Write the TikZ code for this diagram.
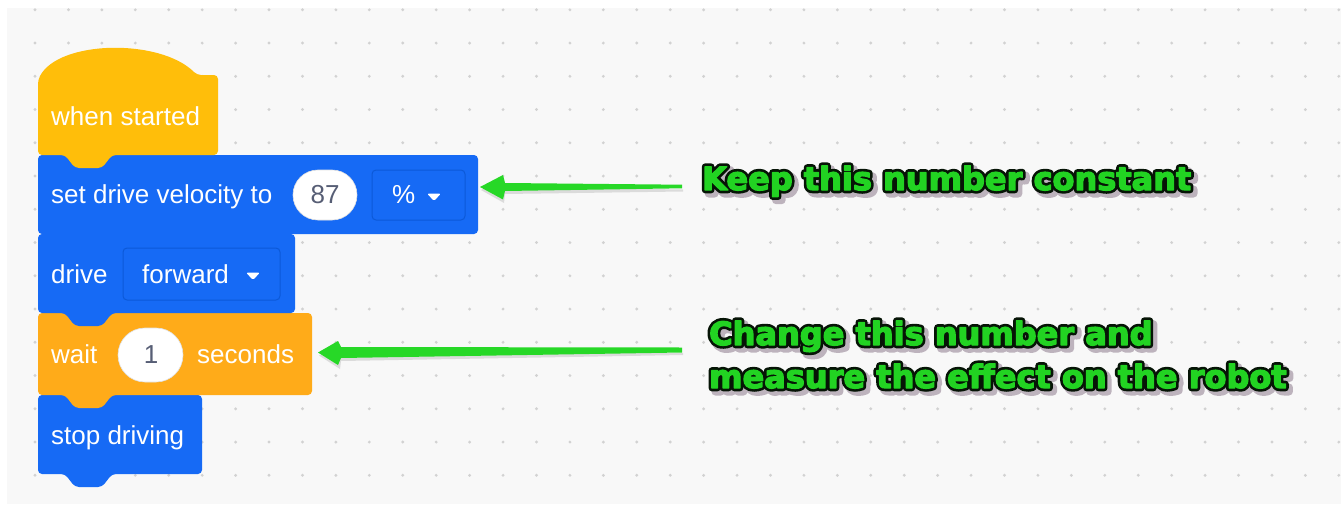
\documentclass[tikz,border=0pt]{standalone}
\usepackage{fontspec}
\setmainfont{Liberation Sans}
\newfontfamily\labfont{DejaVu Sans}
\usetikzlibrary{calc}
\definecolor{bluec}{HTML}{166AF5}
\definecolor{bluedark}{HTML}{0C59D8}
\definecolor{hatc}{HTML}{FFBE0A}
\definecolor{orangec}{HTML}{FFAB19}
\definecolor{bgc}{HTML}{F8F8F8}
\definecolor{dotc}{HTML}{D2D2D2}
\definecolor{ovaltext}{HTML}{575E75}
\definecolor{labgreen}{HTML}{22D322}
\definecolor{laboutline}{HTML}{061406}
\definecolor{labshadow}{HTML}{BDB3BD}
\definecolor{arrowc}{HTML}{27D827}
% stroked text (fill + stroke) of a given width
\newcommand\strk[2]{\special{pdf:literal direct 2 Tr #1 w 1 j 1 J}#2\special{pdf:literal direct 0 Tr}}
\begin{document}
\begin{tikzpicture}[x=1pt,y=-1pt,
  blk/.style={rounded corners=4pt},
  btxt/.style={anchor=base west, inner sep=0pt, text=white, font=\fontsize{26}{30}\selectfont},
  otxt/.style={anchor=base, inner sep=0pt, text=ovaltext, font=\fontsize{26}{30}\selectfont},
  lab/.style={anchor=base west, inner sep=0pt, font=\labfont\bfseries\fontsize{32}{36}\selectfont},
  ddbox/.style={draw=bluedark, line width=1pt, fill=bluec, rounded corners=4pt}]
\useasboundingbox (0,0) rectangle (1341,506);
\fill[white] (0,0) rectangle (1341,506);
\fill[bgc] (7,8) rectangle (1341,504);
% dot grid
\begin{scope}
\clip (7,8) rectangle (1341,504);
\foreach \i in {0,...,40}{\foreach \j in {0,...,15}{\fill[dotc] (1.6+33.43*\i, 9.8+33.25*\j) circle (1.6);}}
\end{scope}
% blocks, bottom to top so each tab overlaps the next block
\fill[bluec, blk] (38,395) -- (202,395) -- (202,474) -- (112,474) -- (102,487) -- (75,487) -- (65,474) -- (38,474) -- cycle;
\fill[orangec, blk] (38,313) -- (312,313) -- (312,395) -- (112,395) -- (102,408) -- (75,408) -- (65,395) -- (38,395) -- cycle;
\fill[bluec, blk] (38,234) -- (295,234) -- (295,313) -- (112,313) -- (102,326) -- (75,326) -- (65,313) -- (38,313) -- cycle;
\fill[bluec, blk] (38,155) -- (478,155) -- (478,234) -- (112,234) -- (102,247) -- (75,247) -- (65,234) -- (38,234) -- cycle;
\fill[hatc, blk] (38,155) -- (38,80) .. controls (58,40) and (160,38) .. (197,75) -- (218,75) -- (218,155) -- (112,155) -- (102,168) -- (75,168) -- (65,155) -- cycle;
% hat text
\node[btxt] (hat) at (51,125) {when started};
% velocity block
\node[btxt] (vel) at (51,203) {set drive velocity to};
\fill[white, draw=black!12, line width=0.6pt, rounded corners=24.9pt] (293,170) rectangle (357,220);
\node[otxt] (v87) at (325,203) {87};
\draw[ddbox] (372,170) rectangle (465,220);
\node[btxt] (pct) at (392,203) {\%};
\fill[white, rounded corners=1.5pt] (427,193.5) -- (441,193.5) -- (434,201) -- cycle;
% drive block
\node[btxt] (drv) at (51,283) {drive};
\draw[ddbox] (123,248) rectangle (280,300);
\node[btxt] (fwd) at (142,283) {forward};
\fill[white, rounded corners=1.5pt] (246,272.5) -- (260,272.5) -- (253,280) -- cycle;
% wait block
\node[btxt] (wt) at (51,363) {wait};
\fill[white, draw=black!12, line width=0.6pt, rounded corners=26.9pt] (118,328) rectangle (183,382);
\node[otxt] (one) at (151,363) {1};
\node[btxt] (sec) at (197,363) {seconds};
% stop block
\node[btxt] (stp) at (51,444) {stop driving};
% arrows
\coordinate (a1t) at (682,186.5);
\coordinate (a1h) at (480,187);
\coordinate (a2t) at (682,350);
\coordinate (a2h) at (318,352.5);
\fill[black!25, opacity=0.5] ($(a1t)+(1,3)$) -- (505,187) -- (504,179) -- ($(a1h)+(1,3)$) -- (504,203) -- (505,194) -- ($(a1t)+(1,5)$) -- cycle;
\fill[arrowc] ($(a1t)+(0,-1.8)$) -- (505,183) -- (503,175) -- (a1h) -- (503,199.5) -- (505,191) -- ($(a1t)+(0,1.8)$) -- cycle;
\fill[black!25, opacity=0.5] ($(a2t)+(1,3)$) -- (341,351) -- (340,345) -- ($(a2h)+(1,3)$) -- (340,369) -- (341,361) -- ($(a2t)+(1,5)$) -- cycle;
\fill[arrowc] ($(a2t)+(0,-2.5)$) -- (341,347) -- (338,341) -- (a2h) -- (338,365) -- (341,358) -- ($(a2t)+(0,2.5)$) -- cycle;
% labels: soft shadow, dark outline, green fill
\foreach \nm/\x/\y/\t in {keep/702/190/Keep this number constant, chgA/709/345/Change this number and, chgB/709/388/measure the effect on the robot}{
  \node[lab, text=labshadow] (\nm s) at (\x+3.5,\y+3.5) {\strk{8}{\t}};
  \node[lab, text=laboutline] (\nm o) at (\x,\y) {\strk{6.6}{\t}};
  \node[lab, text=labgreen] (\nm) at (\x,\y) {\strk{1.3}{\t}};
}
\end{tikzpicture}
\end{document}
